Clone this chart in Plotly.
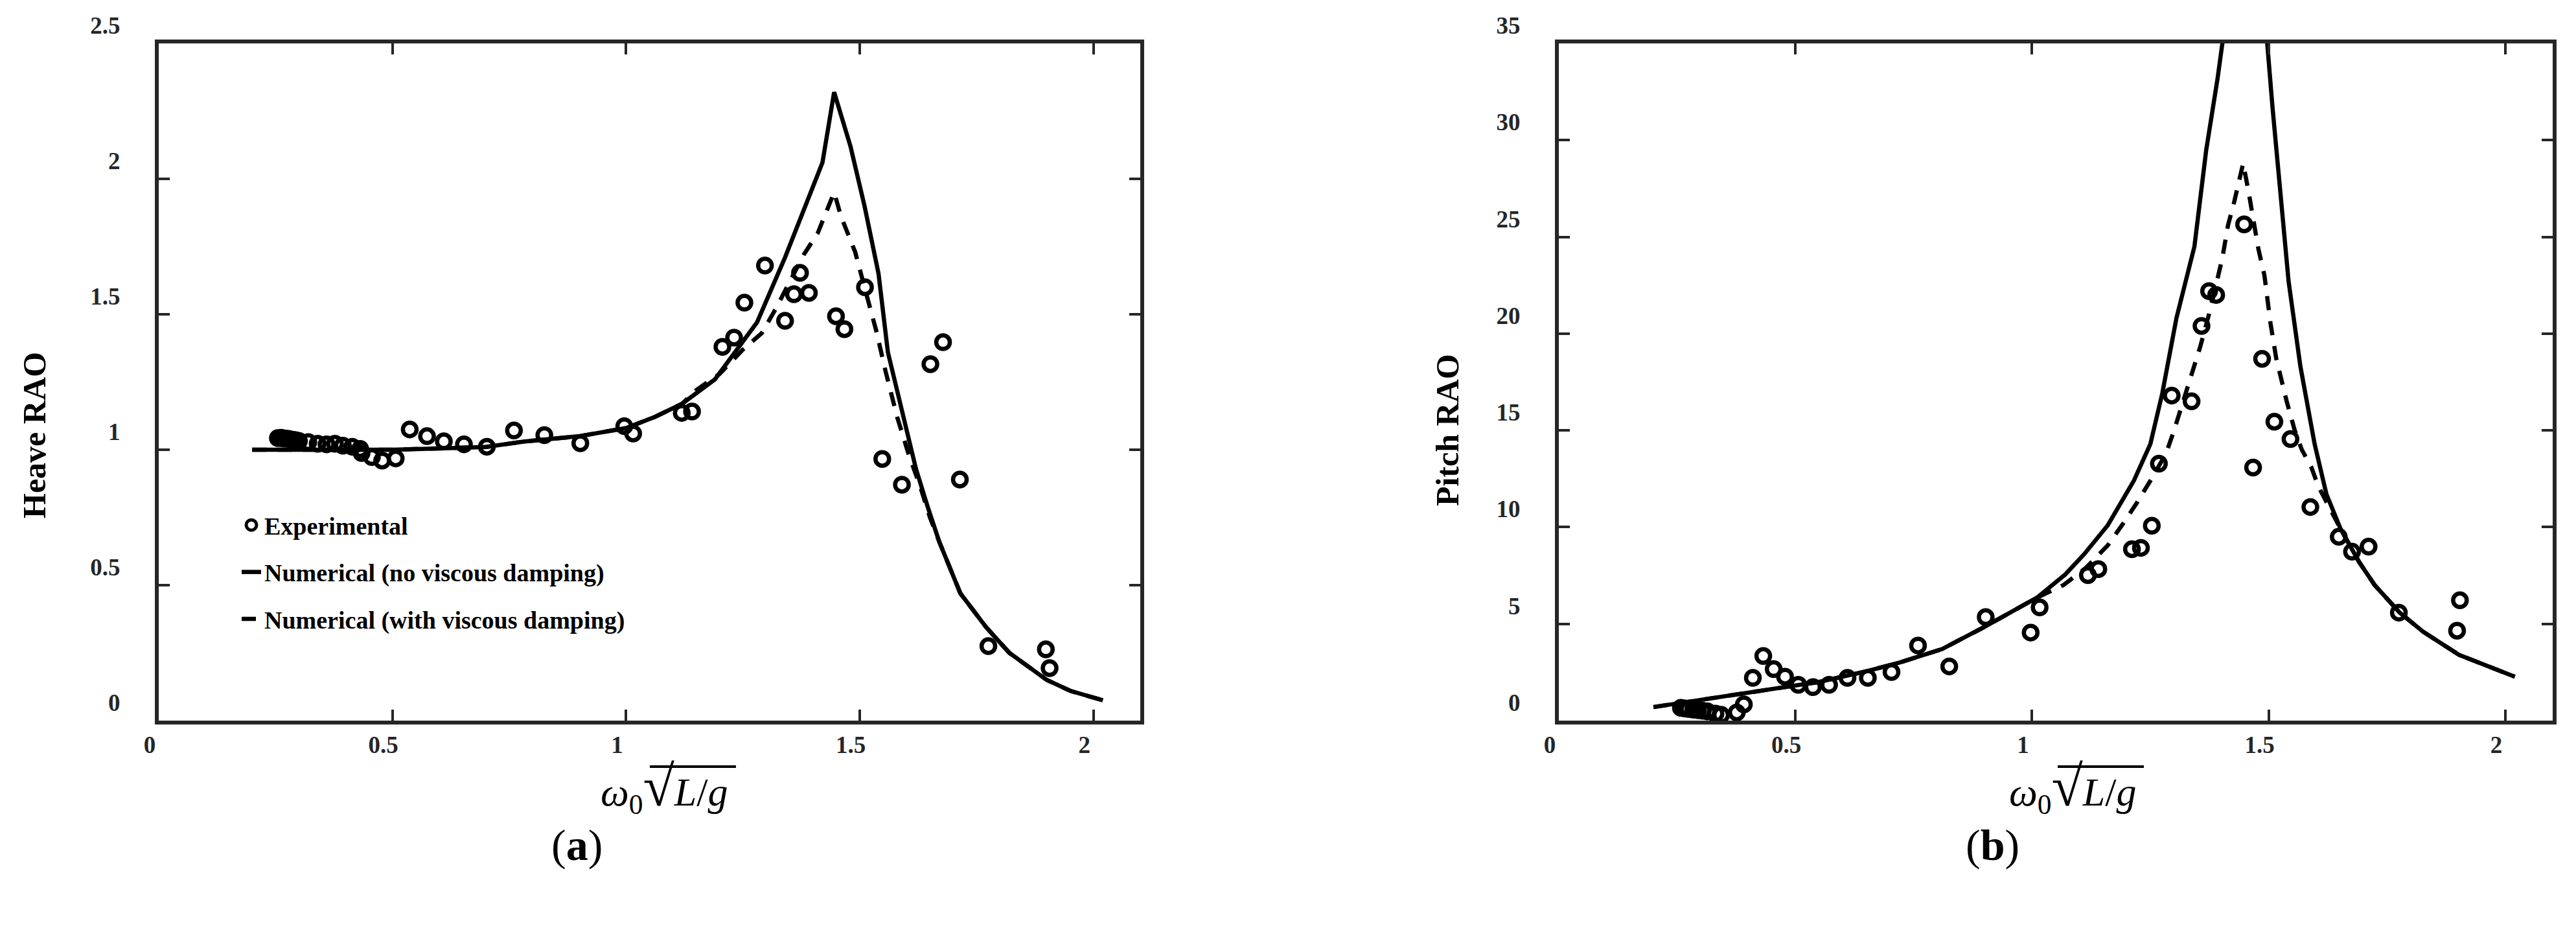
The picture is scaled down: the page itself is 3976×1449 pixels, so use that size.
import plotly.graph_objects as go

# ---- heave (a) ----
heave_exp_x = [0.255, 0.262, 0.266, 0.271, 0.278, 0.286, 0.293, 0.300, 0.320, 0.340, 0.359, 0.377,
               0.394, 0.414, 0.431, 0.434, 0.456, 0.478, 0.507, 0.537, 0.574, 0.610, 0.653, 0.702,
               0.760, 0.825, 0.902, 0.996, 1.015, 1.119, 1.141, 1.206, 1.231, 1.253, 1.297, 1.340,
               1.359, 1.372, 1.391, 1.449, 1.467, 1.511, 1.548, 1.590, 1.651, 1.678, 1.714, 1.775,
               1.898, 1.906]
heave_exp_y = [1.043, 1.044, 1.042, 1.041, 1.040, 1.037, 1.035, 1.032, 1.028, 1.022, 1.020, 1.022,
               1.015, 1.011, 1.003, 0.988, 0.973, 0.960, 0.968, 1.075, 1.050, 1.031, 1.020, 1.011,
               1.071, 1.054, 1.024, 1.087, 1.060, 1.136, 1.141, 1.380, 1.414, 1.543, 1.680, 1.476,
               1.574, 1.653, 1.579, 1.493, 1.445, 1.600, 0.966, 0.871, 1.316, 1.397, 0.890, 0.275,
               0.263, 0.194]

heave_num_x = [0.20, 0.30, 0.40, 0.50, 0.60, 0.70, 0.78, 0.90, 1.00, 1.06, 1.12, 1.19, 1.25, 1.28,
               1.34, 1.38, 1.42, 1.445, 1.48, 1.51, 1.54, 1.56, 1.59, 1.62, 1.645, 1.67, 1.715,
               1.77, 1.82, 1.90, 1.95, 2.02]
heave_num_y = [1.00, 1.00, 1.00, 1.00, 1.005, 1.01, 1.03, 1.05, 1.08, 1.12, 1.17, 1.26, 1.40, 1.47,
               1.71, 1.89, 2.06, 2.32, 2.12, 1.90, 1.65, 1.36, 1.15, 0.93, 0.79, 0.66, 0.47,
               0.345, 0.25, 0.15, 0.11, 0.075]

heave_visc_x = [0.20, 0.30, 0.40, 0.50, 0.60, 0.70, 0.78, 0.90, 1.00, 1.06, 1.12, 1.15, 1.20, 1.25,
                1.29, 1.32, 1.35, 1.38, 1.41, 1.445, 1.46, 1.49, 1.51, 1.535, 1.555, 1.58, 1.605,
                1.63, 1.65, 1.67, 1.715, 1.77, 1.82, 1.90, 1.95, 2.02]
heave_visc_y = [1.00, 1.00, 1.00, 1.00, 1.005, 1.01, 1.03, 1.05, 1.08, 1.12, 1.17, 1.22, 1.28, 1.37,
                1.43, 1.52, 1.62, 1.72, 1.80, 1.95, 1.86, 1.73, 1.60, 1.44, 1.29, 1.12, 0.98,
                0.86, 0.75, 0.66, 0.47, 0.345, 0.25, 0.15, 0.11, 0.075]

# ---- pitch (b) ----
pitch_exp_x = [0.258, 0.266, 0.274, 0.284, 0.294, 0.304, 0.314, 0.331, 0.343, 0.376, 0.391, 0.410,
               0.432, 0.454, 0.478, 0.506, 0.537, 0.571, 0.610, 0.653, 0.703, 0.759, 0.825, 0.902,
               0.997, 1.016, 1.118, 1.140, 1.211, 1.230, 1.253, 1.268, 1.295, 1.337, 1.358, 1.374,
               1.389, 1.448, 1.467, 1.486, 1.512, 1.546, 1.588, 1.648, 1.676, 1.711, 1.775, 1.898,
               1.904]
pitch_exp_y = [0.66, 0.63, 0.60, 0.57, 0.54, 0.51, 0.48, 0.36, 0.30, 0.42, 0.84, 2.21,
               3.34, 2.66, 2.27, 1.85, 1.73, 1.85, 2.21, 2.21, 2.51, 3.88, 2.80, 5.35,
               4.55, 5.85, 7.52, 7.83, 8.86, 8.93, 10.07, 13.28, 16.8, 16.5, 20.4, 22.2,
               22.0, 25.65, 13.08, 18.7, 15.45, 14.55, 11.04, 9.50, 8.73, 8.99, 5.58, 4.65,
               6.22]

pitch_num_x = [0.20, 0.30, 0.40, 0.47, 0.55, 0.65, 0.72, 0.81, 0.90, 1.01, 1.07, 1.11, 1.16, 1.215,
               1.25, 1.275, 1.305, 1.343, 1.368, 1.392, 1.43, 1.445, 1.48, 1.508, 1.524, 1.542,
               1.567, 1.597, 1.622, 1.652, 1.691, 1.724, 1.776, 1.826, 1.902, 1.953, 2.02]
pitch_num_y = [0.70, 1.06, 1.44, 1.70, 2.00, 2.55, 3.00, 3.70, 4.85, 6.35, 7.55, 8.6, 10.1, 12.4,
               14.3, 16.9, 20.8, 24.5, 29.5, 33.2, 40.0, 48.0, 40.0, 31.7, 27.2, 22.7,
               18.3, 14.3, 11.7, 9.9, 8.2, 7.0, 5.6, 4.6, 3.4, 2.9, 2.27]

pitch_visc_x = [0.20, 0.30, 0.40, 0.47, 0.55, 0.65, 0.72, 0.81, 0.90, 1.01, 1.066, 1.114, 1.16, 1.19,
                1.22, 1.25, 1.283, 1.30, 1.317, 1.337, 1.355, 1.376, 1.389, 1.402, 1.414, 1.427,
                1.446, 1.457, 1.478, 1.491, 1.504, 1.516, 1.538, 1.555, 1.57, 1.59, 1.605, 1.626,
                1.652, 1.691, 1.724, 1.776, 1.826, 1.902, 1.953, 2.02]
pitch_visc_y = [0.70, 1.06, 1.44, 1.70, 2.00, 2.55, 3.00, 3.70, 4.85, 6.35, 7.0, 7.9, 9.06, 10.1,
                11.2, 12.4, 13.8, 15.0, 16.3, 17.8, 19.3, 21.2, 22.6, 23.9, 25.6, 26.8,
                28.8, 27.4, 24.4, 23.0, 20.5, 18.7, 16.5, 15.0, 14.0, 13.1, 12.1, 11.1,
                9.9, 8.2, 7.0, 5.6, 4.6, 3.4, 2.9, 2.27]

x_ticks = [0, 0.5, 1, 1.5, 2]
x_ticktext = ["0", "0.5", "1", "1.5", "2"]
heave_ticks = [0, 0.5, 1, 1.5, 2, 2.5]
heave_ticktext = ["0", "0.5", "1", "1.5", "2", "2.5"]
pitch_ticks = [0, 5, 10, 15, 20, 25, 30, 35]

W, H = 3976, 1449


def px(x):
    return x / W


def py(y):
    return 1 - y / H


SERIF = "Liberation Serif"
AXC = "#262626"

fig = go.Figure()

marker = dict(symbol="circle-open", size=21, color="black", line=dict(width=6.5, color="black"))

for xa, ya, ex, ey, nx, ny, vx, vy, show in [
    ("x", "y", heave_exp_x, heave_exp_y, heave_num_x, heave_num_y, heave_visc_x, heave_visc_y, True),
    ("x2", "y2", pitch_exp_x, pitch_exp_y, pitch_num_x, pitch_num_y, pitch_visc_x, pitch_visc_y, False),
]:
    fig.add_trace(go.Scatter(x=ex, y=ey, mode="markers", marker=marker, name="Experimental",
                             legendgroup="a", showlegend=show, xaxis=xa, yaxis=ya))
    fig.add_trace(go.Scatter(x=nx, y=ny, mode="lines", line=dict(color="black", width=6.5),
                             name="Numerical (no viscous damping)", legendgroup="b",
                             showlegend=show, xaxis=xa, yaxis=ya))
    fig.add_trace(go.Scatter(x=vx, y=vy, mode="lines",
                             line=dict(color="black", width=6.5, dash="22px,17px"),
                             name="Numerical (with viscous damping)", legendgroup="c",
                             showlegend=show, xaxis=xa, yaxis=ya))

tickfont = dict(family=SERIF, size=37, color=AXC, weight="bold")
common = dict(showgrid=False, zeroline=False, showline=True, linecolor=AXC, linewidth=6,
              ticks="inside", ticklen=17, tickwidth=4, tickcolor=AXC, mirror="allticks",
              tickfont=tickfont, automargin=False)
xcommon = dict(range=[0, 2.1], tickvals=x_ticks, ticktext=x_ticktext,
               ticklabelshift=-14, ticklabelstandoff=0, **common)
ycommon = dict(ticklabelposition="outside top", ticklabelstandoff=46, **common)

ytop, ybot = py(59), py(1104)
fig.update_layout(
    width=W, height=H,
    margin=dict(l=0, r=0, t=0, b=0, autoexpand=False),
    paper_bgcolor="white", plot_bgcolor="white",
    xaxis=dict(domain=[px(237), px(1752)], anchor="y", **xcommon),
    yaxis=dict(domain=[ybot, ytop], range=[0, 2.5], tickvals=heave_ticks, ticktext=heave_ticktext,
               anchor="x", **ycommon),
    xaxis2=dict(domain=[px(2398), px(3932)], anchor="y2", **xcommon),
    yaxis2=dict(domain=[ybot, ytop], range=[0, 35], tickvals=pitch_ticks, anchor="x2", **ycommon),
    legend=dict(x=px(360), y=py(771), xanchor="left", yanchor="top",
                font=dict(family=SERIF, size=38, color="black", weight="bold"),
                bgcolor="rgba(0,0,0,0)", traceorder="grouped", tracegroupgap=20),
    showlegend=True,
)

label_font = dict(family=SERIF, size=50, color="black", weight="bold")
formula = ("<i>ω</i><sub>0</sub><span style='font-size:88px'>√</span>"
           "<i>L</i>/<i>g</i>")
annotations = [
    dict(text="Heave RAO", x=px(45), y=py(664), textangle=-90, font=label_font),
    dict(text="Pitch RAO", x=px(2226), y=py(656), textangle=-90, font=label_font),
    dict(text=formula, x=px(1018), y=py(1207), font=dict(family=SERIF, size=62, color="black")),
    dict(text=formula, x=px(3191), y=py(1207), font=dict(family=SERIF, size=62, color="black")),
    dict(text="(<b>a</b>)", x=px(841), y=py(1296), xanchor="left",
         font=dict(family=SERIF, size=68, color="black")),
    dict(text="(<b>b</b>)", x=px(3024), y=py(1296), xanchor="left",
         font=dict(family=SERIF, size=68, color="black")),
]
for a in annotations:
    a.update(xref="paper", yref="paper", showarrow=False)
    a.setdefault("xanchor", "center")
    a.setdefault("yanchor", "middle")
fig.update_layout(annotations=annotations)

# vinculum of the square root
for dx in [0, 2173]:
    fig.add_shape(type="line", xref="paper", yref="paper", x0=px(995 + dx), x1=px(1128 + dx),
                  y0=py(1175), y1=py(1175), line=dict(color="black", width=4))

fig.write_html("out.html")
